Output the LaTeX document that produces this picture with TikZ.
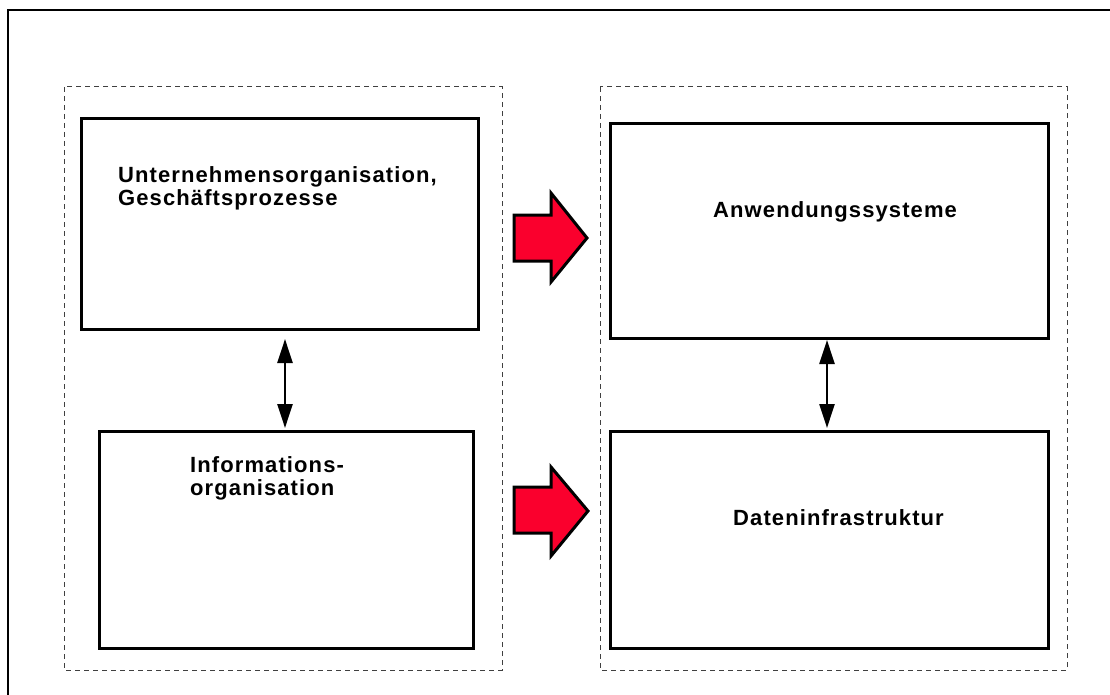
\documentclass[tikz,border=0pt]{standalone}
\usepackage{fontspec}
\setmainfont{Liberation Sans}[LetterSpace=5]
\usetikzlibrary{arrows.meta}
\definecolor{flowred}{RGB}{250,0,45}
\tikzset{
  frame/.style={line width=1.5pt},
  group/.style={draw=black!75, line width=1pt, dash pattern=on 5pt off 4pt},
  box/.style={draw, line width=3pt, inner sep=0pt, anchor=north west},
  lbl/.style={font=\fontsize{22}{23}\selectfont\bfseries, align=left, inner sep=0pt, anchor=base west},
  link/.style={line width=2.4pt, {Triangle[length=24pt,width=15pt]}-{Triangle[length=24pt,width=15pt]}},
  blockarrow/.style={fill=flowred, draw=black, line width=3pt, line join=miter}
}
\begin{document}
\begin{tikzpicture}[x=1pt,y=-1pt]
\useasboundingbox (0,0) rectangle (1110,695);
% outer frame
\draw[frame] (1115,10) -- (8,10) -- (8,700);
% dashed groups
\draw[group] (64,87) rectangle (502,670);
\draw[group] (600,87) rectangle (1067,670);
% boxes
\node[box, minimum width=397pt, minimum height=211pt] (b1) at (80,117) {};
\node[box, minimum width=374pt, minimum height=217pt] (b2) at (98,430) {};
\node[box, minimum width=438pt, minimum height=215pt] (b3) at (609,122) {};
\node[box, minimum width=438pt, minimum height=217pt] (b4) at (609,430) {};
% labels (two-line labels sit on the baseline of their last line)
\node[lbl] (t1) at (118,205) {Unternehmensorganisation,\\Geschäftsprozesse};
\node[lbl] (t2) at (190,495) {Informations-\\organisation};
\node[lbl] (t3) at (713,217) {Anwendungssysteme};
\node[lbl] (t4) at (733,525) {Dateninfrastruktur};
% two-way links
\coordinate (l1) at (285,339);
\coordinate (l2) at (285,428);
\coordinate (r1) at (827,340);
\coordinate (r2) at (827,428);
\draw[link] (l1) -- (l2);
\draw[link] (r1) -- (r2);
% block arrows
\draw[blockarrow] (514,215) -- (551,215) -- (551,193) -- (587,238) -- (551,282) -- (551,261) -- (514,261) -- cycle;
\draw[blockarrow] (514,487) -- (551,487) -- (551,467) -- (588,511) -- (551,556) -- (551,533) -- (514,533) -- cycle;
\end{tikzpicture}
\end{document}
